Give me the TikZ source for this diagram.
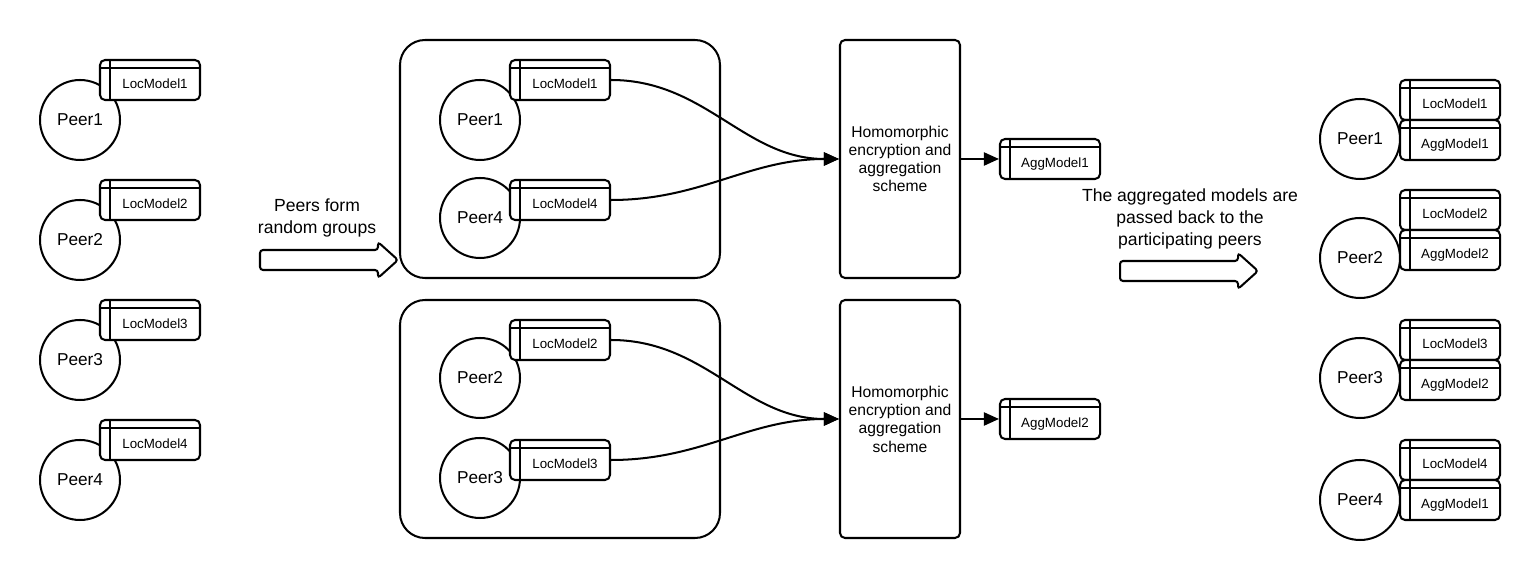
\documentclass[tikz,border=0pt]{standalone}
\usepackage{fontspec}
\setmainfont{Liberation Sans}
\usetikzlibrary{arrows.meta}

\tikzset{
  peer/.style={circle, draw, fill=white, minimum size=16mm, inner sep=0pt,
    font=\fontsize{9.8}{12}\selectfont},
  model/.style={draw, fill=white, rounded corners=1mm, minimum width=20mm,
    minimum height=8mm, inner sep=0pt, text height=3.5mm, text depth=0mm,
    font=\fontsize{7.6}{9}\selectfont,
    execute at begin node={\hspace*{2mm}},
    path picture={
      \draw ([xshift=2mm]path picture bounding box.north west)
        -- ([xshift=2mm]path picture bounding box.south west);
      \draw ([yshift=-1.6mm]path picture bounding box.north west)
        -- ([yshift=-1.6mm]path picture bounding box.north east);
    }},
  group/.style={draw, rounded corners=5mm, minimum width=64mm, minimum height=47.6mm},
  enc/.style={draw, fill=white, rounded corners=1mm, minimum width=24mm,
    minimum height=47.6mm, align=center, font=\fontsize{8.9}{10.4}\selectfont},
  caption/.style={align=center, font=\fontsize{10}{12.6}\selectfont},
  flow/.style={-{Triangle[length=3mm,width=2.6mm]}},
  bigarrow/.style={draw, rounded corners=0.6mm}
}

\begin{document}
\begin{tikzpicture}[x=0.2mm, y=-0.2mm, line width=1.15pt]
    \useasboundingbox (0,0) rectangle (1540,580);

    % peers with their local models
    \foreach \i in {1,...,4} {
        \node[peer] (lp\i) at (80,{120*\i}) {Peer\i};
        \node[model] (lm\i) at (150,{120*\i-40}) {LocModel\i};
    }

    \draw[bigarrow] (260,250) -- ++(118,0) -- ++(0,-8) -- ++(20,18)
        -- ++(-20,18) -- ++(0,-8) -- ++(-118,0) -- cycle;
    \node[caption] (formtxt) at (317,218) {Peers form\\random groups};

    % random groups
    \node[group] (grpA) at (560,159) {};
    \node[group] (grpB) at (560,419) {};
    \foreach \p/\yc/\yb in {1/120/80, 4/218/200, 2/378/340, 3/478/460} {
        \node[peer] (gp\p) at (480,\yc) {Peer\p};
        \node[model] (gm\p) at (560,\yb) {LocModel\p};
    }

    \node[enc] (encA) at (900,159) {Homomorphic\\encryption and\\aggregation\\scheme};
    \node[enc] (encB) at (900,419) {Homomorphic\\encryption and\\aggregation\\scheme};

    \draw[flow] (gm1.east) to[out=0,in=180] (encA.west);
    \draw[flow] (gm4.east) to[out=0,in=180] (encA.west);
    \draw[flow] (gm2.east) to[out=0,in=180] (encB.west);
    \draw[flow] (gm3.east) to[out=0,in=180] (encB.west);

    \node[model] (aggA) at (1050,159) {AggModel1};
    \node[model] (aggB) at (1050,419) {AggModel2};
    \draw[flow] (encA.east) -- (aggA.west);
    \draw[flow] (encB.east) -- (aggB.west);

    \node[caption] (backtxt) at (1190,219)
        {The aggregated models are\\passed back to the\\participating peers};
    \draw[bigarrow] (1120,261) -- ++(118,0) -- ++(0,-8) -- ++(20,18)
        -- ++(-20,18) -- ++(0,-8) -- ++(-118,0) -- cycle;

    % peers after aggregation
    \foreach \p/\a/\yc/\yb in {1/1/139/100, 2/2/258/210, 3/2/378/340, 4/1/500/460} {
        \node[peer] (rp\p) at (1360,\yc) {Peer\p};
        \node[model] (rl\p) at (1450,\yb) {LocModel\p};
        \node[model] (ra\p) at (1450,{\yb+40}) {AggModel\a};
    }
\end{tikzpicture}
\end{document}
